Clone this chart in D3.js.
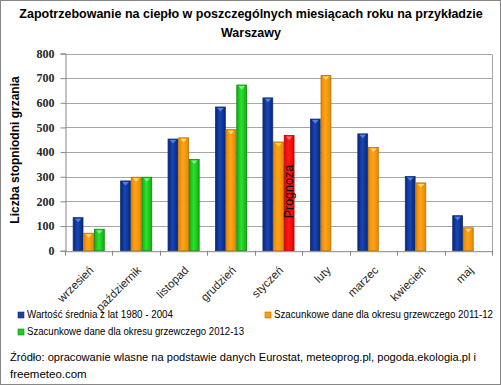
<!DOCTYPE html>
<meta charset="utf-8">
<head>
<script src="https://cdn.jsdelivr.net/npm/d3@7"></script>
<style>
body { margin: 0; background: #fff; }
</style>
</head>
<body>
<script>

var months = ["wrzesień", "październik", "listopad", "grudzień", "styczeń", "luty", "marzec", "kwiecień", "maj"]
var avg8004 = [134, 283, 453, 583, 620, 534, 474, 301, 142]
var est1112 = [71, 298, 458, 491, 441, 711, 419, 275, 93]
var est1213 = [87, 298, 370, 672, null, null, null, null, null]
var forecast = [null, null, null, null, 467, null, null, null, null]
var yTicks = [0, 100, 200, 300, 400, 500, 600, 700, 800]
var seriesNames = ["Wartość średnia z lat 1980 - 2004", "Szacunkowe dane dla okresu grzewczego 2011-12", "Szacunkowe dane dla okresu grzewczego 2012-13"]

var width = 501, height = 385
var plotLeft = 65, plotRight = 492, plotTop = 53.5, plotBottom = 250.7

var svg = d3.select("body").append("svg")
    .attr("width", width)
    .attr("height", height)

// border around the whole picture
svg.append("rect").attr("x", 0.5).attr("y", 0.5)
    .attr("width", width - 1).attr("height", height - 1)
    .attr("fill", "#fff").attr("stroke", "#868686")

var colors = [
    {id: "gBlue", dark: "#06267a", mid: "#1a46b4", stroke: "#14306e", hi: "#5b86e6"},
    {id: "gOrange", dark: "#e88a00", mid: "#ffa31a", stroke: "#b77000", hi: "#ffe070"},
    {id: "gGreen", dark: "#10b010", mid: "#2ee02e", stroke: "#0d860d", hi: "#8cf08c"},
    {id: "gRed", dark: "#e80000", mid: "#ff1a1a", stroke: "#b00000", hi: "#ff8080"}
]

var defs = svg.append("defs")
colors.forEach(function (c) {
    var g = defs.append("linearGradient").attr("id", c.id)
        .attr("x1", "0").attr("x2", "1").attr("y1", "0").attr("y2", "0")
    g.append("stop").attr("offset", "0").attr("stop-color", c.dark)
    g.append("stop").attr("offset", "0.45").attr("stop-color", c.mid)
    g.append("stop").attr("offset", "1").attr("stop-color", c.dark)
})

var x = d3.scaleBand().domain(months).range([plotLeft, plotRight]).paddingInner(0).paddingOuter(0)
var y = d3.scaleLinear().domain([0, 800]).range([plotBottom, plotTop])
var slot = d3.scaleBand().domain([0, 1, 2]).range([0, x.bandwidth()]).paddingInner(0).paddingOuter(0.73)

// gridlines
svg.append("g").selectAll("line")
    .data(yTicks.slice(1))
    .enter().append("line")
    .attr("x1", plotLeft).attr("x2", plotRight)
    .attr("y1", d => Math.round(y(d)) + 0.5).attr("y2", d => Math.round(y(d)) + 0.5)
    .attr("stroke", "#a6a6a6")

// right frame line
svg.append("line").attr("x1", plotRight + 0.5).attr("x2", plotRight + 0.5)
    .attr("y1", Math.round(y(800)) + 0.5).attr("y2", plotBottom + 4)
    .attr("stroke", "#a6a6a6")

// y axis
var yAxis = svg.append("g")
    .attr("transform", "translate(" + (plotLeft + 0.5) + ",0)")
    .call(d3.axisLeft(y).tickValues(yTicks).tickSize(5).tickPadding(6))
yAxis.select(".domain").attr("stroke", "#868686")
yAxis.selectAll(".tick line").attr("stroke", "#868686")
yAxis.selectAll("text")
    .style("font-family", "'Liberation Serif', 'DejaVu Serif', serif")
    .style("font-size", "12px").style("font-weight", "bold").attr("fill", "#262626")

// bars
var all = [avg8004, est1112, est1213, forecast]
var bars = []
all.forEach(function (arr, si) {
    arr.forEach(function (v, i) {
        if (v == null) return
        var s = si == 3 ? 2 : si
        bars.push({m: months[i], v: v, slot: s, c: colors[si]})
    })
})

var barG = svg.append("g")
barG.selectAll("rect")
    .data(bars)
    .enter().append("rect")
    .attr("x", d => x(d.m) + slot(d.slot) + 0.4)
    .attr("y", d => y(d.v))
    .attr("width", slot.bandwidth() - 0.8)
    .attr("height", d => plotBottom - y(d.v))
    .attr("fill", d => "url(#" + d.c.id + ")")
    .attr("stroke", d => d.c.stroke)
    .attr("stroke-width", 0.8)

// small highlight at the top of each bar
barG.selectAll("path")
    .data(bars)
    .enter().append("path")
    .attr("d", function (d) {
        var x0 = x(d.m) + slot(d.slot) + 2, x1 = x(d.m) + slot(d.slot) + slot.bandwidth() - 2
        var yy = y(d.v) + 1
        return "M" + x0 + "," + yy + "L" + x1 + "," + yy + "L" + ((x0 + x1) / 2) + "," + (yy + 3.5) + "Z"
    })
    .attr("fill", d => d.c.hi)
    .attr("opacity", 0.9)

// "Prognoza" label inside the red bar
var fi = forecast.findIndex(v => v != null)
svg.append("text")
    .attr("transform", "translate(" + (x(months[fi]) + slot(2) + slot.bandwidth() / 2 + 4) + "," + (y(forecast[fi]) + 56) + ") rotate(-90)")
    .attr("text-anchor", "middle")
    .style("font-family", "'Liberation Sans', Arial, sans-serif")
    .style("font-size", "12.5px")
    .attr("fill", "#000")
    .text("Prognoza")

// x axis
var xAxis = svg.append("g")
    .attr("transform", "translate(0," + (plotBottom + 0.5) + ")")
    .call(d3.axisBottom(x).tickSize(0).tickPadding(8))
xAxis.select(".domain").attr("stroke", "#868686")
svg.append("g").selectAll("line")
    .data(months.concat(["end"]))
    .enter().append("line")
    .attr("x1", (d, i) => Math.round(plotLeft + i * x.bandwidth()) + 0.5)
    .attr("x2", (d, i) => Math.round(plotLeft + i * x.bandwidth()) + 0.5)
    .attr("y1", plotBottom).attr("y2", plotBottom + 5)
    .attr("stroke", "#868686")
xAxis.selectAll("text")
    .style("font-family", "'Liberation Sans', Arial, sans-serif")
    .style("font-size", "11.5px").attr("fill", "#262626")
    .attr("text-anchor", "end")
    .attr("dy", "0")
    .attr("transform", "translate(0,14) rotate(-45)")

// title
var title = svg.append("text")
    .attr("text-anchor", "middle")
    .style("font-family", "'Liberation Sans', Arial, sans-serif")
    .style("font-size", "12.5px").style("font-weight", "bold").attr("fill", "#000")
title.append("tspan").attr("x", 251).attr("y", 18)
    .text("Zapotrzebowanie na ciepło w poszczególnych miesiącach roku na przykładzie")
title.append("tspan").attr("x", 251).attr("y", 37).text("Warszawy")

// y axis title
svg.append("text")
    .attr("transform", "translate(19,150) rotate(-90)")
    .attr("text-anchor", "middle")
    .style("font-family", "'Liberation Sans', Arial, sans-serif")
    .style("font-size", "12px").style("font-weight", "bold").attr("fill", "#000")
    .text("Liczba stopniodni grzania")

// legend
var legendPos = [[18, 318, 146], [265, 318, 219], [18, 335, 217]]
var legendFill = ["#1f3fa0", "#ff9d0a", "#22cc22"]
var leg = svg.append("g").selectAll("g")
    .data(seriesNames)
    .enter().append("g")
    .attr("transform", (d, i) => "translate(" + legendPos[i][0] + "," + legendPos[i][1] + ")")
leg.append("rect").attr("x", 0).attr("y", -6).attr("width", 6).attr("height", 6)
    .attr("fill", (d, i) => legendFill[i]).attr("stroke", (d, i) => colors[i].stroke).attr("stroke-width", 0.6)
leg.append("text").attr("x", 9).attr("y", 0)
    .style("font-family", "'Liberation Sans', Arial, sans-serif")
    .style("font-size", "10px").attr("fill", "#000")
    .attr("textLength", (d, i) => legendPos[i][2])
    .attr("lengthAdjust", "spacingAndGlyphs")
    .text(d => d)

// source
var src = svg.append("text")
    .style("font-family", "'Liberation Sans', Arial, sans-serif")
    .style("font-size", "11.5px").attr("fill", "#000")
src.append("tspan").attr("x", 10).attr("y", 361)
    .attr("textLength", 466).attr("lengthAdjust", "spacingAndGlyphs")
    .text("Źródło: opracowanie wlasne na podstawie danych Eurostat, meteoprog.pl, pogoda.ekologia.pl i")
src.append("tspan").attr("x", 10).attr("y", 378).text("freemeteo.com")

</script>
</body>
</html>
